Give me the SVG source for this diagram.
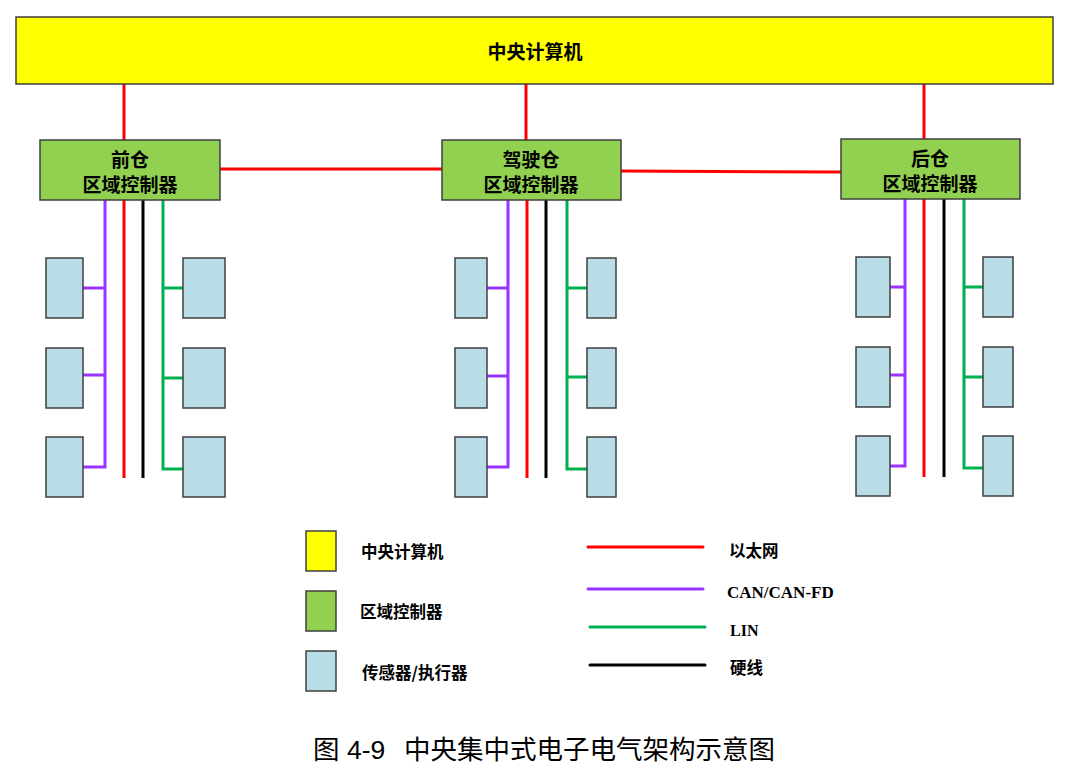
<svg xmlns="http://www.w3.org/2000/svg" width="1069" height="773" viewBox="0 0 1069 773">
<style>
.box{stroke:#3f3f3f;stroke-width:1.5}
.cc{fill:#FFFF00}
.zc{fill:#92D050}
.sa{fill:#B9DDE6}
.t{font-family:"Noto Sans CJK SC","Liberation Sans",sans-serif;font-weight:bold;fill:#000;dominant-baseline:central}
.tn{font-size:19px;text-anchor:middle}
.tl{font-size:16.5px}
.lat{font-family:"Liberation Serif","Times New Roman",serif;font-weight:bold;fill:#000;dominant-baseline:central}
.eth{stroke:#FF0000;stroke-width:3;fill:none}
.can{stroke:#9933FF;stroke-width:3;fill:none}
.lin{stroke:#00B050;stroke-width:3;fill:none}
.hw{stroke:#000;stroke-width:3;fill:none}
.cap{font-family:"Liberation Sans","Noto Sans CJK SC",sans-serif;font-size:26.5px;fill:#000;dominant-baseline:central}
</style>

<g id="connectors">
  <line class="eth" x1="124" y1="84" x2="124" y2="140"/>
  <line class="eth" x1="526" y1="84" x2="526" y2="140"/>
  <line class="eth" x1="924" y1="84" x2="924" y2="139"/>
  <line class="eth" x1="220" y1="169" x2="442" y2="169"/>
  <line class="eth" x1="621" y1="171" x2="841" y2="172"/>
  <polyline class="can" points="105,200 105,467 83,467"/>
  <line class="can" x1="83" y1="288" x2="105" y2="288"/>
  <line class="can" x1="83" y1="375" x2="105" y2="375"/>
  <line class="eth" x1="124" y1="200" x2="124" y2="478"/>
  <line class="hw" x1="143" y1="200" x2="143" y2="478"/>
  <polyline class="lin" points="163,200 163,469 183,469"/>
  <line class="lin" x1="163" y1="288" x2="183" y2="288"/>
  <line class="lin" x1="163" y1="378" x2="183" y2="378"/>
  <polyline class="can" points="508,200 508,467 487,467"/>
  <line class="can" x1="487" y1="288" x2="508" y2="288"/>
  <line class="can" x1="487" y1="376" x2="508" y2="376"/>
  <line class="eth" x1="527" y1="200" x2="527" y2="478"/>
  <line class="hw" x1="546" y1="200" x2="546" y2="478"/>
  <polyline class="lin" points="567,200 567,469 587,469"/>
  <line class="lin" x1="567" y1="288" x2="587" y2="288"/>
  <line class="lin" x1="567" y1="377" x2="587" y2="377"/>
  <polyline class="can" points="905,199 905,466 890,466"/>
  <line class="can" x1="890" y1="287" x2="905" y2="287"/>
  <line class="can" x1="890" y1="375" x2="905" y2="375"/>
  <line class="eth" x1="924" y1="199" x2="924" y2="477"/>
  <line class="hw" x1="944" y1="199" x2="944" y2="477"/>
  <polyline class="lin" points="964,199 964,468 983,468"/>
  <line class="lin" x1="964" y1="287" x2="983" y2="287"/>
  <line class="lin" x1="964" y1="377" x2="983" y2="377"/>
</g>

<g id="central-computer">
  <rect class="box cc" x="16" y="17" width="1037" height="67"/>
  <text class="t tn" x="535" y="50">中央计算机</text>
</g>

<g id="front-zone">
  <rect class="box zc" x="40" y="140" width="180" height="60"/>
  <text class="t tn" x="130" y="158">前仓</text>
  <text class="t tn" x="130" y="183">区域控制器</text>
</g>
<g id="cockpit-zone">
  <rect class="box zc" x="442" y="140" width="179" height="60"/>
  <text class="t tn" x="531" y="158">驾驶仓</text>
  <text class="t tn" x="531" y="183">区域控制器</text>
</g>
<g id="rear-zone">
  <rect class="box zc" x="841" y="139" width="179" height="60"/>
  <text class="t tn" x="930" y="157">后仓</text>
  <text class="t tn" x="930" y="182">区域控制器</text>
</g>

<g id="front-devices">
  <rect class="box sa" x="46" y="258" width="37" height="60"/>
  <rect class="box sa" x="46" y="348" width="37" height="60"/>
  <rect class="box sa" x="46" y="437" width="37" height="60"/>
  <rect class="box sa" x="183" y="258" width="42" height="60"/>
  <rect class="box sa" x="183" y="348" width="42" height="60"/>
  <rect class="box sa" x="183" y="437" width="42" height="60"/>
</g>
<g id="cockpit-devices">
  <rect class="box sa" x="455" y="258" width="32" height="60"/>
  <rect class="box sa" x="455" y="348" width="32" height="60"/>
  <rect class="box sa" x="455" y="437" width="32" height="60"/>
  <rect class="box sa" x="587" y="258" width="29" height="60"/>
  <rect class="box sa" x="587" y="348" width="29" height="60"/>
  <rect class="box sa" x="587" y="437" width="29" height="60"/>
</g>
<g id="rear-devices">
  <rect class="box sa" x="856" y="257" width="34" height="60"/>
  <rect class="box sa" x="856" y="347" width="34" height="60"/>
  <rect class="box sa" x="856" y="436" width="34" height="60"/>
  <rect class="box sa" x="983" y="257" width="30" height="60"/>
  <rect class="box sa" x="983" y="347" width="30" height="60"/>
  <rect class="box sa" x="983" y="436" width="30" height="60"/>
</g>

<g id="legend">
  <rect class="box cc" x="306" y="531" width="30" height="40"/>
  <text class="t tl" x="361" y="551">中央计算机</text>
  <rect class="box zc" x="306" y="591" width="30" height="40"/>
  <text class="t tl" x="360" y="611">区域控制器</text>
  <rect class="box sa" x="306" y="651" width="30" height="40"/>
  <text class="t tl" x="362" y="672">传感器/执行器</text>

  <line class="eth" x1="588" y1="547" x2="703" y2="547" stroke-linecap="round"/>
  <text class="t tl" x="729" y="550">以太网</text>
  <line class="can" x1="588" y1="589" x2="703" y2="589" stroke-linecap="round"/>
  <text class="lat" x="727" y="592" font-size="17">CAN/CAN-FD</text>
  <line class="lin" x1="590" y1="627" x2="705" y2="627" stroke-linecap="round"/>
  <text class="lat" x="730" y="630" font-size="16">LIN</text>
  <line class="hw" x1="590" y1="665" x2="705" y2="665" stroke-linecap="round"/>
  <text class="t tl" x="730" y="667">硬线</text>
</g>

<text class="cap" y="750"><tspan x="313">图</tspan><tspan x="347">4-9</tspan><tspan x="404">中央集中式电子电气架构示意图</tspan></text>
</svg>
